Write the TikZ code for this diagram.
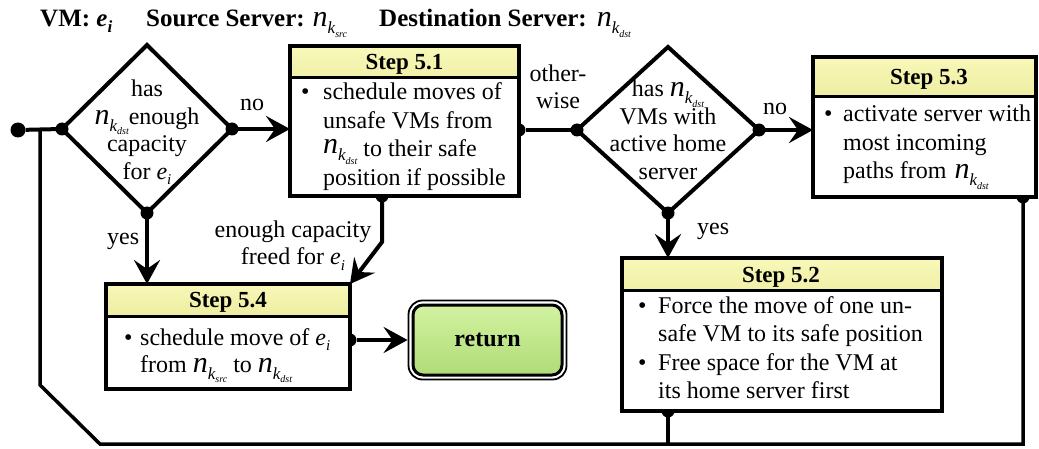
\documentclass[tikz,border=0pt]{standalone}
\usepackage{fontspec}
\setmainfont{Liberation Serif}
\usetikzlibrary{shapes.geometric,arrows.meta,backgrounds,fit}

\definecolor{hdrtop}{RGB}{248,248,185}
\definecolor{hdrbot}{RGB}{212,212,105}
\definecolor{rettop}{RGB}{210,242,160}
\definecolor{retbot}{RGB}{176,220,120}

\newcommand\nk[1]{{\fontsize{30}{30}\selectfont\normalfont\itshape n}\raisebox{-7pt}[0pt][0pt]{\fontsize{17}{17}\selectfont\normalfont\itshape k\raisebox{-3.5pt}[0pt][0pt]{\fontsize{10}{10}\selectfont\normalfont\itshape #1}}}
\newcommand\ei{{\itshape e}\raisebox{-5pt}[0pt][0pt]{\fontsize{15}{15}\selectfont\itshape i}}
\newcommand\eib{{\bfseries\itshape e}\raisebox{-6pt}[0pt][0pt]{\fontsize{17}{17}\selectfont\bfseries\itshape i}}
\newcommand\bl[1]{\makebox[#1pt][l]{\textbullet}}

\tikzset{
  stepbox/.style={draw, line width=4pt, fill=white, rectangle, inner sep=0pt, outer sep=0pt,
    path picture={
      \shade[top color=hdrtop, bottom color=hdrbot]
        (path picture bounding box.north west) rectangle ([yshift=-#1]path picture bounding box.north east);
      \draw[line width=3pt] ([yshift=-#1]path picture bounding box.north west) -- ([yshift=-#1]path picture bounding box.north east);
    }},
  dia/.style={diamond, draw, line width=4pt, inner sep=0pt, outer sep=0pt},
  dot/.style={circle, fill=black, inner sep=0pt, minimum size=13pt},
  conn/.style={line width=4pt},
  arr/.style={line width=4pt, -{Stealth[length=24pt, width=26pt, inset=9pt]}},
  loopline/.style={line width=3.5pt},
  body/.style={font=\fontsize{24}{28.5}\selectfont, inner sep=0pt, anchor=base west},
  dtext/.style={font=\fontsize{24}{27.5}\selectfont, inner sep=0pt, anchor=base},
  lbl/.style={font=\fontsize{24}{26.5}\selectfont, inner sep=0pt},
  title/.style={font=\fontsize{23}{26}\selectfont\bfseries, inner sep=0pt, anchor=base},
  hdr/.style={font=\fontsize{25}{30}\selectfont\bfseries, inner sep=0pt, anchor=base west},
  ret/.style={draw, line width=3pt, rounded corners=10pt, top color=rettop, bottom color=retbot,
    minimum width=149pt, minimum height=70pt, inner sep=0pt, font=\fontsize{24}{28}\selectfont\bfseries},
}

\begin{document}
\begin{tikzpicture}[x=1pt,y=-1pt]
\useasboundingbox (0,0) rectangle (1039,449);

% header
\node[hdr] (vm) at (40,27) {VM: \eib};
\node[hdr] (src) at (146,27) {Source Server:\hspace{8pt}\nk{src}};
\node[hdr] (dst) at (379,27) {Destination Server:\hspace{10pt}\nk{dst}};

% decisions
\node[dia, minimum width=170pt, minimum height=168pt] (d1) at (147,129) {};
\node[dtext] (d1t) at (147,97) {\begin{tabular}[t]{@{}c@{}}has\\ \nk{dst}enough\\ capacity\\ for \ei\end{tabular}};
\node[dia, minimum width=182pt, minimum height=166pt] (d2) at (668,130) {};
\node[dtext] (d2t) at (668,97) {\begin{tabular}[t]{@{}c@{}}has \nk{dst}\\ VMs with\\ active home\\ server\end{tabular}};

% steps
\node[stepbox=32pt, minimum width=229pt, minimum height=150pt] (s51) at (404.5,121) {};
\node[title] (t51) at (404.5,70) {Step 5.1};
\node[body] (b51) at (301,100) {\begin{tabular}[t]{@{}l@{}}\bl{22}schedule moves of\\ \hspace{22pt}unsafe VMs from\\ \hspace{22pt}\raisebox{3pt}{\nk{dst}} to their safe\\ \hspace{22pt}position if possible\end{tabular}};

\node[stepbox=40pt, minimum width=223pt, minimum height=140pt] (s53) at (924.5,127) {};
\node[title] (t53) at (929,85) {Step 5.3};
\node[body] (b53) at (824,122) {\begin{tabular}[t]{@{}l@{}}\bl{19}activate server with\\ \hspace{19pt}most incoming\\ \hspace{19pt}paths from\hspace{8pt}\nk{dst}\end{tabular}};

\node[stepbox=32pt, minimum width=320pt, minimum height=153pt] (s52) at (782,334.5) {};
\node[title] (t52) at (781,283) {Step 5.2};
\node[body] (b52) at (638,313) {\begin{tabular}[t]{@{}l@{}}\bl{20}Force the move of one un-\\ \hspace{20pt}safe VM to its safe position\\ \bl{20}Free space for the VM at\\ \hspace{20pt}its home server first\end{tabular}};

\node[stepbox=32pt, minimum width=244pt, minimum height=105pt] (s54) at (228,336.5) {};
\node[title] (t54) at (228,307) {Step 5.4};
\node[body, font=\fontsize{24}{27}\selectfont] (b54) at (124,345) {\begin{tabular}[t]{@{}l@{}}\bl{16}schedule move of \ei\\ \hspace{16pt}from \nk{src} to \nk{dst}\end{tabular}};

% return
\node[ret] (ret) at (487.5,340) {return};
\node[draw, line width=1.8pt, rounded corners=14pt, fit=(ret), inner sep=3pt] (retout) {};

% labels
\node[lbl, anchor=base west] (no1) at (240,111) {no};
\node[lbl, anchor=base west] (no2) at (763,115) {no};
\node[lbl, anchor=base] (ow) at (558,82) {\begin{tabular}[t]{@{}c@{}}other-\\ wise\end{tabular}};
\node[lbl, anchor=base west] (yes1) at (107,245) {yes};
\node[lbl, anchor=base west] (yes2) at (697,235) {yes};
\node[lbl, anchor=base, font=\fontsize{24}{28}\selectfont] (ecf) at (293,237) {\begin{tabular}[t]{@{}c@{}}enough capacity\\ freed for \ei\end{tabular}};

% connectors
\begin{pgfonlayer}{background}
\node[dot, minimum size=15pt] (p0) at (18,130) {};
\coordinate (j) at (40,130);
\draw[conn] (p0) -- (d1.west);
\node[dot] (q1) at (d1.west) {};
\node[dot] (q2) at (d1.east) {};
\node[dot] (q3) at (d1.south) {};
\draw[arr] (d1.east) -- (d1.east -| s51.west);
\draw[arr] (d1.south) -- (d1.south |- s54.north);
\node[dot] (p1) at (d2.west -| s51.east) {};
\node[dot] (q4) at (d2.west) {};
\node[dot] (q5) at (d2.east) {};
\node[dot] (q6) at (d2.south) {};
\draw[conn] (p1) -- (d2.west);
\draw[arr] (d2.east) -- (d2.east -| s53.west);
\draw[arr] (d2.south) -- (d2.south |- s52.north);
\coordinate (s51b) at (382,196);
\node[dot] (p3) at (s51b) {};
\coordinate (bend) at (382,242);
\draw[arr] (s51b) -- (bend) -- (s54.north east);
\node[dot] (p2) at (ret.west -| s54.east) {};
\draw[arr] (p2) -- (retout.west);
\coordinate (s53b) at (1023,197);
\node[dot] (p4) at (s53b) {};
\coordinate (s52b) at (668,411);
\node[dot] (p5) at (s52b) {};
\coordinate (c1) at (1023,444);
\coordinate (c2) at (100,444);
\coordinate (c3) at (40,385);
\draw[loopline] (s53b) -- (c1) -- (c2) -- (c3) -- (j);
\draw[loopline] (s52b) -- (s52b |- c1);
\end{pgfonlayer}
\end{tikzpicture}
\end{document}
